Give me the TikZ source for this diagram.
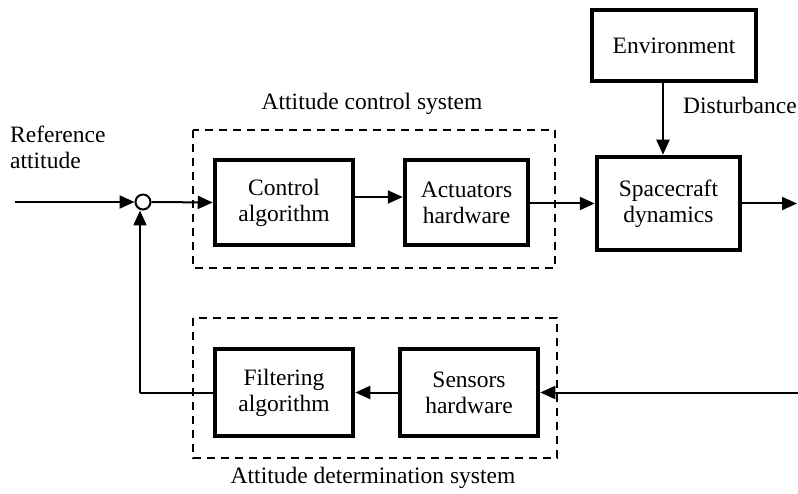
\documentclass[tikz,border=0pt]{standalone}
\usepackage{fontspec}
\setmainfont{Liberation Serif}
\usetikzlibrary{arrows.meta}
\begin{document}
\begin{tikzpicture}[x=1pt,y=-1pt,
  blk/.style={draw, line width=4.5pt, align=center, inner sep=0pt,
    font=\fontsize{23.5}{26}\selectfont},
  lbl/.style={inner sep=0pt, font=\fontsize{23.5}{26}\selectfont},
  dbox/.style={draw, line width=2.2pt, dash pattern=on 8pt off 6pt},
  conn/.style={line width=2pt, -{Triangle[length=15pt,width=13pt]}},
  plain/.style={line width=2pt}]
\useasboundingbox (0,0) rectangle (798,494);
% dashed system boxes
\draw[dbox] (193,130) rectangle (555,268);
\draw[dbox] (193,318) rectangle (557,458);
% blocks
\node[blk, minimum width=164pt, minimum height=71pt] (env) at (674,45.5) {Environment};
\node[blk, minimum width=143pt, minimum height=93pt] (sc) at (668.5,203.5) {Spacecraft\\dynamics};
\node[blk, minimum width=138pt, minimum height=85pt] (ctrl) at (284,202.5) {Control\\algorithm};
\node[blk, minimum width=123pt, minimum height=85pt] (act) at (466.5,202.5) {Actuators\\hardware};
\node[blk, minimum width=138pt, minimum height=87pt] (filt) at (284,392.5) {Filtering\\algorithm};
\node[blk, minimum width=138pt, minimum height=87pt] (sens) at (469,392.5) {Sensors\\hardware};
% summing junction
\node[draw, circle, line width=2pt, minimum size=15pt, inner sep=0pt] (sum) at (143,202) {};
% labels
\node[lbl, anchor=west, align=left] (ref) at (10,147) {Reference\\attitude};
\node[lbl] (acs) at (372,104) {Attitude control system};
\node[lbl] (ads) at (373,478) {Attitude determination system};
\node[lbl, anchor=west] (dist) at (683,105) {Disturbance};
% coordinates
\coordinate (in) at (15,202);
\coordinate (out) at (797,203.5);
\coordinate (fbin) at (798,392.5);
\coordinate (corner) at (140,392.5);
\coordinate (ca) at (0,197);
% connectors
\draw[conn] (in) -- (sum.west);
\draw[conn] (sum.east) -- (ctrl.west);
\draw[conn] (ctrl.east |- ca) -- (act.west |- ca);
\draw[conn] (act.east |- sc.west) -- (sc.west);
\draw[conn] (sc.east) -- (out);
\draw[conn] (env.south -| 663,0) -- (sc.north -| 663,0);
\draw[conn] (fbin) -- (sens.east);
\draw[conn] (sens.west) -- (filt.west -| filt.east);
\draw[plain] (filt.west) -- (corner);
\draw[conn] (corner) -- (sum.south -| corner);
\end{tikzpicture}
\end{document}
